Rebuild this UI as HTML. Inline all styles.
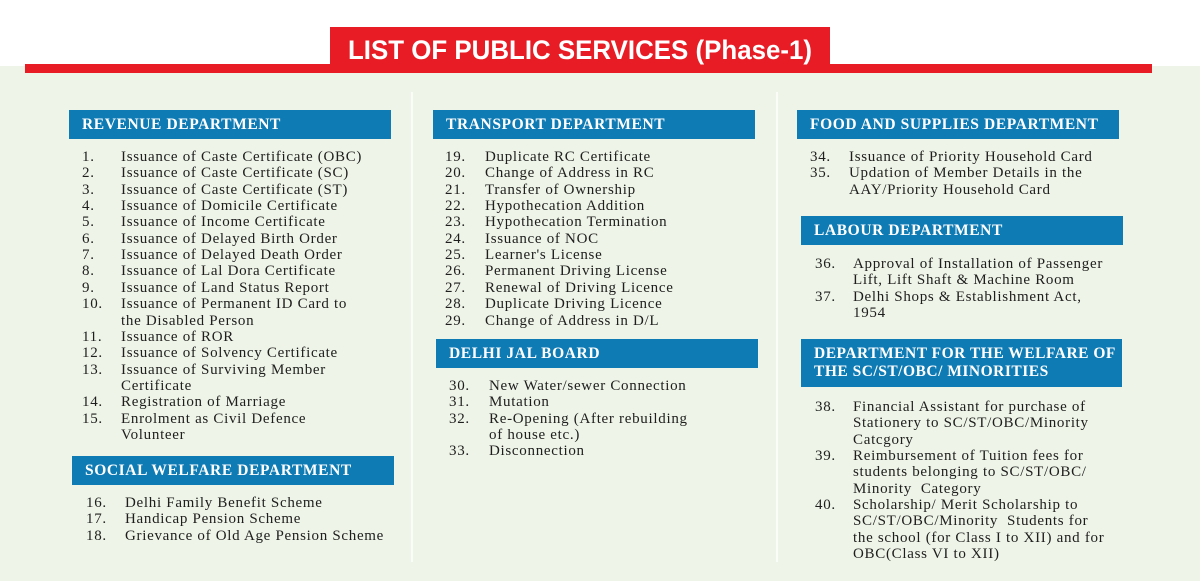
<!DOCTYPE html>
<html><head><meta charset="utf-8"><style>
body{margin:0;width:1200px;height:581px;overflow:hidden;background:#eef4e7;position:relative;font-family:"Liberation Serif",serif;}
.top{position:absolute;left:0;top:0;width:1200px;height:66px;background:#fff}
.bar{position:absolute;left:25px;top:64px;width:1127px;height:9px;background:#e81c24}
.tab{position:absolute;left:330px;top:27px;width:500px;height:40px;background:#e81c24}
.h{position:absolute;background:#0f7bb5;color:#fff;font-weight:bold;font-size:15.5px;letter-spacing:.6px;padding-left:13px;box-sizing:border-box;line-height:30px;height:29px}
.l{position:absolute;font-size:15px;color:#1e1e1e;white-space:nowrap;line-height:16px;letter-spacing:.7px}
.v{position:absolute;width:2px;background:#fafcf7;top:92px;height:470px}
</style></head><body>
<div class="top"></div>
<div class="bar"></div>
<div class="tab"></div>
<svg style="position:absolute;left:0;top:0" width="1200" height="80"><text x="348" y="59" textLength="464" lengthAdjust="spacingAndGlyphs" font-family="Liberation Sans" font-weight="bold" font-size="27" fill="#fff">LIST OF PUBLIC SERVICES (Phase-1)</text></svg>
<div class="v" style="left:411px"></div>
<div class="v" style="left:776px"></div>

<div class="h" style="left:69px;top:110px;width:322px">REVENUE DEPARTMENT</div>
<div class="h" style="left:433px;top:110px;width:322px">TRANSPORT DEPARTMENT</div>
<div class="h" style="left:797px;top:110px;width:322px">FOOD AND SUPPLIES DEPARTMENT</div>
<div class="h" style="left:801px;top:216px;width:322px">LABOUR DEPARTMENT</div>
<div class="h" style="left:436px;top:339px;width:322px">DELHI JAL BOARD</div>
<div class="h" style="left:72px;top:456px;width:322px">SOCIAL WELFARE DEPARTMENT</div>
<div class="h" style="left:801px;top:339px;width:321px;height:48px;line-height:18px;padding-top:6px;letter-spacing:.5px">DEPARTMENT FOR THE WELFARE OF<br>THE SC/ST/OBC/ MINORITIES</div>

<div id="c"></div>
<script>
const d=[
[82,121,156,[["1.","Issuance of Caste Certificate (OBC)"],["2.","Issuance of Caste Certificate (SC)"],["3.","Issuance of Caste Certificate (ST)"],["4.","Issuance of Domicile Certificate"],["5.","Issuance of Income Certificate"],["6.","Issuance of Delayed Birth Order"],["7.","Issuance of Delayed Death Order"],["8.","Issuance of Lal Dora Certificate"],["9.","Issuance of Land Status Report"],["10.","Issuance of Permanent ID Card to"],["","the Disabled Person"],["11.","Issuance of ROR"],["12.","Issuance of Solvency Certificate"],["13.","Issuance of Surviving Member"],["","Certificate"],["14.","Registration of Marriage"],["15.","Enrolment as Civil Defence"],["","Volunteer"]]],
[86,125,502,[["16.","Delhi Family Benefit Scheme"],["17.","Handicap Pension Scheme"],["18.","Grievance of Old Age Pension Scheme"]]],
[445,485,156,[["19.","Duplicate RC Certificate"],["20.","Change of Address in RC"],["21.","Transfer of Ownership"],["22.","Hypothecation Addition"],["23.","Hypothecation Termination"],["24.","Issuance of NOC"],["25.","Learner's License"],["26.","Permanent Driving License"],["27.","Renewal of Driving Licence"],["28.","Duplicate Driving Licence"],["29.","Change of Address in D/L"]]],
[449,489,385,[["30.","New Water/sewer Connection"],["31.","Mutation"],["32.","Re-Opening (After rebuilding"],["","of house etc.)"],["33.","Disconnection"]]],
[810,849,156,[["34.","Issuance of Priority Household Card"],["35.","Updation of Member Details in the"],["","AAY/Priority Household Card"]]],
[815,853,263,[["36.","Approval of Installation of Passenger"],["","Lift, Lift Shaft & Machine Room"],["37.","Delhi Shops & Establishment Act,"],["","1954"]]],
[815,853,406,[["38.","Financial Assistant for purchase of"],["","Stationery to SC/ST/OBC/Minority"],["","Catcgory"],["39.","Reimbursement of Tuition fees for"],["","students belonging to SC/ST/OBC/"],["","Minority  Category"],["40.","Scholarship/ Merit Scholarship to"],["","SC/ST/OBC/Minority  Students for"],["","the school (for Class I to XII) and for"],["","OBC(Class VI to XII)"]]]
];
let h="";
for(const [nx,tx,y0,rows] of d){rows.forEach((r,i)=>{const y=Math.round(y0+i*16.35-7);
if(r[0])h+=`<div class="l" style="left:${nx}px;top:${y}px">${r[0]}</div>`;
h+=`<div class="l" style="left:${tx}px;top:${y}px">${r[1].replace(/&/g,'&amp;').replace(/  /g,' &nbsp;')}</div>`;});}
document.getElementById('c').innerHTML=h;
</script>
</body></html>
